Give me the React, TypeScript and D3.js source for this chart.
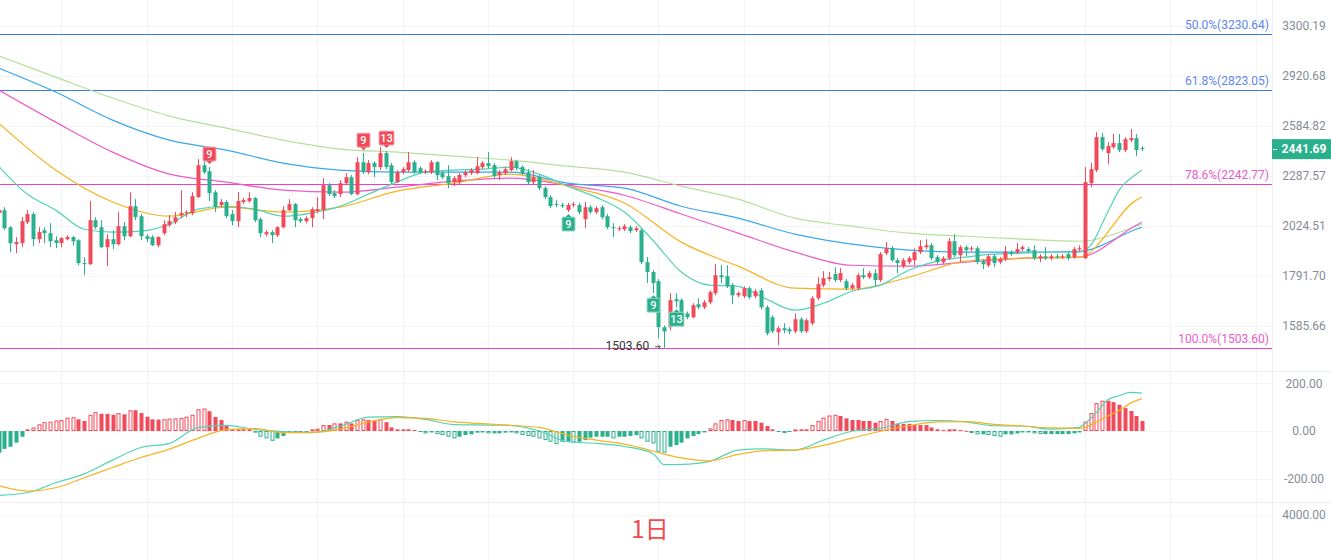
import * as d3 from "d3";

// daily candles (Chinese colours: red = up, green = down)
const opens = [
  2089, 2104, 2018, 1936, 1941, 2043, 2084, 1960, 2003, 1989, 1955, 1941, 1960, 1970, 1955, 1849, 1844, 2053, 2018, 1922,
  1960, 1936, 2023, 1974, 2124, 2073, 1974, 1970, 1931, 1989, 2028, 2043, 2078, 2089, 2089, 2172, 2348, 2314, 2198, 2130,
  2146, 2084, 2048, 2146, 2151, 2167, 2058, 1984, 1994, 1979, 2018, 2104, 2135, 2058, 2048, 2063, 2099, 2104, 2236, 2193,
  2188, 2247, 2280, 2188, 2365, 2308, 2360, 2337, 2418, 2348, 2253, 2308, 2320, 2365, 2331, 2308, 2308, 2365, 2303, 2286,
  2253, 2253, 2292, 2303, 2303, 2337, 2360, 2348, 2292, 2303, 2320, 2371, 2337, 2308, 2253, 2280, 2220, 2172, 2135, 2130,
  2104, 2130, 2130, 2058, 2119, 2094, 2119, 2073, 2018, 2008, 2008, 2018, 2003, 2003, 1853, 1809, 1769, 1581, 1581, 1693,
  1689, 1635, 1620, 1672, 1660, 1680, 1718, 1795, 1791, 1752, 1709, 1705, 1739, 1705, 1730, 1660, 1620, 1562, 1577, 1573,
  1565, 1612, 1565, 1596, 1697, 1752, 1778, 1800, 1774, 1769, 1739, 1739, 1795, 1786, 1804, 1774, 1894, 1917, 1862, 1835,
  1853, 1862, 1899, 1922, 1931, 1876, 1853, 1871, 1950, 1885, 1922, 1913, 1917, 1858, 1839, 1880, 1853, 1867, 1899, 1899,
  1913, 1913, 1908, 1871, 1880, 1871, 1880, 1876, 1890, 1876, 1913, 1871, 2247, 2320, 2514, 2418, 2454, 2478, 2436, 2496,
  2508, 2448,
];
const highs = [
  2119, 2119, 2023, 1970, 2068, 2104, 2094, 2018, 2018, 2038, 1974, 1970, 1979, 1974, 1960, 1876, 2151, 2068, 2053, 1984,
  2003, 2094, 2043, 2198, 2161, 2084, 1984, 1979, 1974, 2053, 2078, 2094, 2209, 2104, 2198, 2383, 2371, 2337, 2209, 2161,
  2156, 2104, 2198, 2167, 2198, 2172, 2068, 2003, 2003, 2023, 2124, 2161, 2141, 2068, 2073, 2119, 2172, 2275, 2247, 2209,
  2264, 2303, 2292, 2395, 2418, 2377, 2371, 2454, 2430, 2360, 2320, 2337, 2424, 2377, 2342, 2325, 2377, 2371, 2314, 2348,
  2286, 2303, 2320, 2331, 2395, 2371, 2424, 2360, 2320, 2337, 2395, 2377, 2348, 2325, 2320, 2292, 2231, 2182, 2156, 2141,
  2141, 2146, 2141, 2146, 2130, 2124, 2130, 2084, 2038, 2023, 2033, 2028, 2023, 2013, 1876, 1817, 1778, 1588, 1718, 1718,
  1697, 1643, 1676, 1697, 1689, 1730, 1844, 1839, 1839, 1761, 1726, 1747, 1747, 1735, 1739, 1668, 1628, 1585, 1596, 1581,
  1635, 1620, 1616, 1705, 1786, 1813, 1809, 1830, 1826, 1778, 1761, 1804, 1826, 1813, 1822, 1899, 1946, 1927, 1871, 1871,
  1880, 1917, 1955, 1960, 1941, 1885, 1880, 1965, 1984, 1931, 1931, 1927, 1927, 1867, 1890, 1890, 1876, 1927, 1908, 1941,
  1931, 1922, 1931, 1890, 1922, 1890, 1890, 1890, 1899, 1922, 1931, 2337, 2360, 2545, 2539, 2484, 2533, 2533, 2514, 2564,
  2533, 2460,
];
const lows = [
  2073, 2003, 1899, 1894, 1922, 2033, 1927, 1941, 1941, 1922, 1917, 1922, 1955, 1931, 1839, 1795, 1840, 2008, 1917, 1835,
  1913, 1931, 1955, 1970, 2053, 1955, 1946, 1927, 1922, 1979, 2018, 2033, 2063, 2068, 2078, 2167, 2297, 2151, 2094, 2119,
  2063, 2028, 2018, 2135, 2141, 2043, 1970, 1974, 1941, 1970, 2013, 2099, 2018, 2038, 2038, 2018, 2089, 2058, 2177, 2167,
  2172, 2236, 2182, 2182, 2297, 2297, 2280, 2320, 2325, 2242, 2247, 2297, 2308, 2297, 2297, 2297, 2297, 2264, 2269, 2220,
  2231, 2242, 2280, 2292, 2297, 2325, 2331, 2275, 2264, 2292, 2314, 2320, 2292, 2242, 2242, 2209, 2161, 2114, 2119, 2114,
  2094, 2119, 2084, 2013, 2084, 2084, 2058, 2008, 1970, 1999, 1999, 1989, 1994, 1844, 1761, 1718, 1539, 1503.6, 1569, 1660,
  1624, 1612, 1616, 1652, 1652, 1672, 1709, 1761, 1739, 1672, 1701, 1697, 1693, 1697, 1652, 1550, 1558, 1513, 1558, 1554,
  1558, 1558, 1558, 1588, 1689, 1743, 1769, 1765, 1765, 1730, 1730, 1730, 1778, 1778, 1747, 1765, 1885, 1853, 1804, 1826,
  1844, 1839, 1890, 1913, 1862, 1844, 1844, 1862, 1876, 1853, 1880, 1903, 1844, 1822, 1830, 1830, 1844, 1858, 1880, 1890,
  1903, 1894, 1862, 1853, 1862, 1862, 1867, 1867, 1862, 1867, 1903, 1867, 2225, 2308, 2430, 2354, 2442, 2424, 2424, 2484,
  2400, 2430,
];
const closes = [
  2104, 2013, 1941, 1946, 2048, 2084, 1960, 1994, 1989, 1950, 1941, 1965, 1970, 1950, 1849, 1844, 2053, 2018, 1922, 1960,
  1936, 2023, 1974, 2124, 2068, 1974, 1960, 1931, 1970, 2033, 2048, 2068, 2089, 2094, 2177, 2348, 2308, 2193, 2119, 2146,
  2073, 2048, 2151, 2156, 2167, 2053, 1989, 1994, 1979, 2018, 2104, 2135, 2053, 2048, 2063, 2109, 2109, 2236, 2188, 2177,
  2247, 2280, 2188, 2365, 2308, 2360, 2337, 2418, 2337, 2253, 2308, 2325, 2365, 2308, 2308, 2314, 2365, 2292, 2280, 2247,
  2275, 2292, 2308, 2320, 2342, 2360, 2342, 2286, 2308, 2325, 2371, 2331, 2303, 2253, 2280, 2220, 2172, 2124, 2130, 2124,
  2130, 2135, 2094, 2119, 2094, 2114, 2068, 2018, 2013, 2013, 2023, 1999, 2013, 1853, 1809, 1761, 1581, 1565, 1689, 1684,
  1631, 1620, 1668, 1660, 1680, 1722, 1795, 1786, 1747, 1709, 1718, 1739, 1701, 1726, 1660, 1558, 1565, 1577, 1569, 1565,
  1612, 1565, 1608, 1697, 1756, 1782, 1786, 1774, 1804, 1739, 1752, 1795, 1786, 1804, 1774, 1890, 1917, 1862, 1849, 1862,
  1871, 1899, 1927, 1931, 1871, 1853, 1871, 1950, 1885, 1922, 1908, 1917, 1853, 1844, 1880, 1849, 1867, 1903, 1890, 1913,
  1922, 1903, 1871, 1880, 1871, 1880, 1876, 1880, 1871, 1913, 1917, 2253, 2325, 2514, 2442, 2460, 2478, 2436, 2502, 2508,
  2436, 2441.69,
];

// moving averages at these candle indices
const maSlowIdx = [0, 10, 20, 30, 40, 50, 60, 70, 80, 90, 100, 110, 120, 130, 140, 150, 160, 170, 180, 190, 200, 201];
const maLightGreen = [3065, 2911, 2766, 2647, 2570, 2496, 2442, 2424, 2400, 2377, 2342, 2308, 2231, 2161, 2063, 2023, 1989, 1974, 1960, 1950, 2023, 2033];
const maBlue = [2976, 2807, 2621, 2496, 2436, 2360, 2320, 2308, 2308, 2308, 2247, 2220, 2124, 2063, 1984, 1936, 1908, 1899, 1899, 1903, 2008, 2018];
const maPink = [2820, 2608, 2424, 2297, 2253, 2209, 2198, 2225, 2258, 2275, 2236, 2182, 2084, 1989, 1899, 1839, 1835, 1853, 1871, 1876, 2028, 2043];
const maOrange = [2601, 2320, 2146, 2073, 2119, 2094, 2119, 2204, 2247, 2297, 2231, 2141, 1946, 1835, 1739, 1735, 1786, 1858, 1871, 1876, 2156, 2172];
const maFastIdx = [
  0, 5, 10, 15, 20, 25, 30, 35, 40, 45, 50, 55, 60, 65, 70, 75, 80, 85, 90, 95, 100, 105, 110, 115, 120, 125, 130, 135,
  140, 145, 150, 155, 160, 165, 170, 175, 180, 185, 190, 192, 195, 197, 200, 201,
];
const maTeal = [
  2342, 2188, 2104, 2008, 1994, 1999, 2033, 2109, 2124, 2109, 2073, 2089, 2124, 2188, 2253, 2308, 2320, 2325, 2337, 2297,
  2231, 2172, 2094, 1955, 1809, 1752, 1747, 1693, 1648, 1676, 1726, 1752, 1817, 1858, 1876, 1890, 1894, 1899, 1899, 1931,
  2094, 2209, 2297, 2320,
];

// MACD
const macdHist = [
  -91, -75, -66, -49, -24, 7, 15, 28, 37, 39, 44, 46, 56, 58, 49, 42, 68, 79, 72, 72,
  68, 75, 70, 87, 87, 75, 60, 49, 48, 49, 52, 53, 55, 60, 68, 91, 94, 83, 59, 46,
  24, 8, 7, 7, 7, -7, -24, -31, -41, -31, -21, -7, -6, -6, -6, 7, 10, 25, 25, 32,
  32, 39, 32, 46, 49, 46, 44, 51, 37, 15, 7, 7, 7, 4, -3, -10, -6, -13, -17, -24,
  -31, -24, -17, -14, -7, -6, -10, -10, -10, -7, -6, -10, -17, -21, -24, -31, -38, -45, -55, -45,
  -45, -48, -45, -38, -28, -24, -24, -24, -31, -24, -24, -21, -17, -31, -45, -52, -87, -91, -66, -59,
  -49, -31, -21, -13, -6, 11, 32, 46, 49, 46, 42, 46, 42, 42, 35, 21, 7, -3, -4, -4,
  7, 7, 7, 25, 42, 56, 65, 68, 63, 53, 46, 46, 42, 42, 35, 42, 51, 42, 30, 30,
  30, 25, 25, 25, 15, 7, 4, 7, 7, 4, 1, -3, -14, -14, -17, -21, -24, -14, -14, -10,
  -6, -6, -10, -13, -13, -13, -13, -13, -13, -10, -6, 39, 75, 117, 127, 127, 121, 110, 96, 84,
  63, 42,
];
const macdIdx = [
  0, 5, 10, 15, 20, 25, 30, 35, 40, 45, 50, 55, 60, 65, 70, 75, 80, 85, 90, 95, 100, 105, 110, 115, 117, 120, 125, 130,
  135, 140, 145, 150, 155, 160, 165, 170, 175, 180, 185, 190, 191, 193, 195, 197, 199, 201,
];
const difValues = [
  -270, -259, -217, -180, -122, -69, -52, 14, 24, 7, -3, -7, 20, 58, 60, 49, 27, 25, 24, 1, -45, -52, -65, -94, -141, -140,
  -127, -80, -75, -80, -38, -1, 11, 39, 44, 38, 22, 21, 8, 15, 32, 77, 131, 148, 162, 159,
];
const deaValues = [
  -229, -252, -238, -196, -153, -111, -76, -31, 6, 10, -7, -6, 8, 37, 56, 53, 38, 31, 23, 15, -17, -38, -55, -84, -97, -113,
  -125, -98, -82, -80, -60, -30, -1, 22, 38, 39, 28, 21, 13, 11, 15, 37, 63, 86, 117, 136,
];

// axis ticks and annotations
const priceTicks = [3300.19, 2920.68, 2584.82, 2287.57, 2024.51, 1791.7, 1585.66];
const macdTicks = [200, 0, -200];
const volumeTicks = [4000];
const fibRatios = ["50.0%", "61.8%", "78.6%", "100.0%"];
const fibPrices = [3230.64, 2823.05, 2242.77, 1503.6];
const tdIdx = [37, 64, 68, 100, 115, 119];
const tdLabels = ["9", "9", "13", "9", "9", "13"];
const tdAbove = [true, true, true, false, false, false];
const lastPrice = 2441.69;
const lowIdx = 117;
const lowPrice = 1503.6;
const periodLabel = "1日";

const W = 1331;
const H = 560;
const PLOT_R = 1272;
const RED = "#f04b5a";
const GREEN = "#2bb08d";
const FONT = "Roboto, 'Noto Sans', sans-serif";
const fibColors = ["#3d78e6", "#3d78e6", "#ef3fc8", "#ef3fc8"];
const fibText = ["#5f86ec", "#5f86ec", "#e95ccd", "#e95ccd"];

export default function App() {
  const n = opens.length;
  const x = d3.scaleLinear().domain([0, n - 1]).range([-1.2, 1141.9]);
  const y = d3.scaleLog().domain([1585.66, 3300.19]).range([326, 25.7]);
  const ym = d3.scaleLinear().domain([-200, 200]).range([478.7, 383.3]);

  const priceLine = (idx: number[], vals: number[]) =>
    d3
      .line<number>()
      .x((_, k) => x(idx[k]))
      .y((v) => y(v))
      .curve(d3.curveMonotoneX)(vals) ?? "";

  const macdLine = (vals: number[]) =>
    d3
      .line<number>()
      .x((_, k) => x(macdIdx[k]))
      .y((v) => ym(v))
      .curve(d3.curveMonotoneX)(vals) ?? "";

  const gridIdx = d3.range(11, n + 20, 15).filter((i) => x(i) < PLOT_R);
  const xLow = x(lowIdx);
  const yLow = y(lowPrice);

  return (
    <svg
      width={W}
      height={H}
      style={{ position: "absolute", left: 0, top: 0, background: "#fff" }}
      fontFamily={FONT}
    >
      <defs>
        <clipPath id="pricePane">
          <rect x={0} y={0} width={PLOT_R} height={371} />
        </clipPath>
        <clipPath id="macdPane">
          <rect x={0} y={372} width={PLOT_R} height={130} />
        </clipPath>
      </defs>
      <rect width={W} height={H} fill="#fff" />

      {/* grid */}
      {gridIdx.map((i) => (
        <line key={`vg${i}`} x1={Math.round(x(i)) + 0.5} x2={Math.round(x(i)) + 0.5} y1={0} y2={H} stroke="#f3f4f6" />
      ))}
      {priceTicks.map((t) => (
        <line key={`hg${t}`} x1={0} x2={PLOT_R} y1={Math.round(y(t)) + 0.5} y2={Math.round(y(t)) + 0.5} stroke="#f3f4f6" />
      ))}
      {macdTicks.map((t) => (
        <line key={`mg${t}`} x1={0} x2={PLOT_R} y1={Math.round(ym(t)) + 0.5} y2={Math.round(ym(t)) + 0.5} stroke="#f3f4f6" />
      ))}
      <line x1={0} x2={PLOT_R} y1={515.5} y2={515.5} stroke="#f3f4f6" />
      <line x1={0} x2={W} y1={371.5} y2={371.5} stroke="#eceef1" />
      <line x1={0} x2={W} y1={502.5} y2={502.5} stroke="#eceef1" />
      <line x1={PLOT_R + 0.5} x2={PLOT_R + 0.5} y1={0} y2={H} stroke="#eceef1" />

      {/* fibonacci levels */}
      {fibPrices.map((p, k) => (
        <g key={`fib${k}`}>
          <line x1={0} x2={PLOT_R} y1={Math.round(y(p)) + 0.5} y2={Math.round(y(p)) + 0.5} stroke={fibColors[k]} strokeWidth={1} />
          <text x={PLOT_R - 3} y={y(p) - 5} textAnchor="end" fontSize={12} fill={fibText[k]}>
            {`${fibRatios[k]}(${p.toFixed(2)})`}
          </text>
        </g>
      ))}

      <g clipPath="url(#pricePane)">
        {/* moving averages */}
        <path d={priceLine(maSlowIdx, maLightGreen)} fill="none" stroke="#b5e09c" strokeWidth={1.2} />
        <path d={priceLine(maSlowIdx, maBlue)} fill="none" stroke="#3aa8ec" strokeWidth={1.2} />
        <path d={priceLine(maSlowIdx, maPink)} fill="none" stroke="#ee5cc9" strokeWidth={1.2} />
        <path d={priceLine(maSlowIdx, maOrange)} fill="none" stroke="#f6b321" strokeWidth={1.2} />
        <path d={priceLine(maFastIdx, maTeal)} fill="none" stroke="#55d3b6" strokeWidth={1.2} />

        {/* candles */}
        {opens.map((o, i) => {
          const c = closes[i];
          const col = c >= o ? RED : GREEN;
          const cx = Math.round(x(i));
          const top = y(Math.max(o, c));
          const bot = y(Math.min(o, c));
          return (
            <g key={`c${i}`}>
              <line x1={cx + 0.5} x2={cx + 0.5} y1={y(highs[i])} y2={y(lows[i])} stroke={col} strokeWidth={1} />
              <rect x={cx - 1.5} y={top} width={4} height={Math.max(1, bot - top)} fill={col} />
            </g>
          );
        })}

        {/* TD sequential markers */}
        {tdIdx.map((i, k) => {
          const cx = Math.round(x(i)) + 0.5;
          const w = tdLabels[k].length > 1 ? 15 : 13;
          const h = 14;
          const fill = tdAbove[k] ? RED : GREEN;
          const stroke = tdAbove[k] ? "#f7aab3" : "#a3dcc9";
          if (tdAbove[k]) {
            const b = y(highs[i]) - 6;
            return (
              <g key={`td${k}`}>
                <rect x={cx - w / 2} y={b - h} width={w} height={h} fill={fill} stroke={stroke} strokeWidth={1} rx={1} />
                <path d={`M${cx - 3},${b} L${cx + 3},${b} L${cx},${b + 3} Z`} fill={fill} />
                <text x={cx} y={b - h / 2} dy="0.36em" textAnchor="middle" fontSize={11} fontWeight={500} fill="#fff">
                  {tdLabels[k]}
                </text>
              </g>
            );
          }
          const t = y(lows[i]) + 5;
          return (
            <g key={`td${k}`}>
              <rect x={cx - w / 2} y={t} width={w} height={h} fill={fill} stroke={stroke} strokeWidth={1} rx={1} />
              <path d={`M${cx - 3},${t} L${cx + 3},${t} L${cx},${t - 3} Z`} fill={fill} />
              <text x={cx} y={t + h / 2} dy="0.36em" textAnchor="middle" fontSize={11} fontWeight={500} fill="#fff">
                {tdLabels[k]}
              </text>
            </g>
          );
        })}

        {/* lowest price note */}
        <text x={xLow - 15} y={yLow - 1.5} dy="0.35em" textAnchor="end" fontSize={12} fill="#333">
          {lowPrice.toFixed(2)}
        </text>
        <path
          d={`M${xLow - 9},${yLow - 1} H${xLow - 4} M${xLow - 6},${yLow - 3} L${xLow - 4},${yLow - 1} L${xLow - 6},${yLow + 1}`}
          fill="none"
          stroke="#555"
          strokeWidth={1}
        />
      </g>

      {/* MACD pane */}
      <g clipPath="url(#macdPane)">
        {macdHist.map((v, i) => {
          const prev = i > 0 ? Math.abs(macdHist[i - 1]) : Infinity;
          const hollow = Math.abs(v) > prev;
          const col = v >= 0 ? RED : GREEN;
          const cx = Math.round(x(i));
          const top = ym(Math.max(v, 0));
          const bot = ym(Math.min(v, 0));
          const hgt = Math.max(1, bot - top);
          return hollow ? (
            <rect key={`h${i}`} x={cx - 1} y={top + 0.5} width={3} height={Math.max(1, hgt - 1)} fill="#fff" stroke={col} strokeWidth={1} />
          ) : (
            <rect key={`h${i}`} x={cx - 1.5} y={top} width={4} height={hgt} fill={col} />
          );
        })}
        <path d={macdLine(difValues)} fill="none" stroke="#55d3b6" strokeWidth={1.2} />
        <path d={macdLine(deaValues)} fill="none" stroke="#f6b321" strokeWidth={1.2} />
      </g>

      {/* right axis */}
      <g fontSize={12} fill="#868c96" textAnchor="middle">
        {priceTicks.map((t) => (
          <text key={`pt${t}`} x={1304} y={y(t)} dy="0.35em">
            {t.toFixed(2)}
          </text>
        ))}
        {macdTicks.map((t) => (
          <text key={`mt${t}`} x={1304} y={ym(t)} dy="0.35em">
            {t.toFixed(2)}
          </text>
        ))}
        {volumeTicks.map((t) => (
          <text key={`vt${t}`} x={1304} y={514.5} dy="0.35em">
            {t.toFixed(2)}
          </text>
        ))}
      </g>

      {/* last price tag */}
      <rect x={PLOT_R} y={y(lastPrice) - 10} width={W - PLOT_R} height={20} fill={GREEN} />
      <line x1={PLOT_R + 1} x2={PLOT_R + 5} y1={Math.round(y(lastPrice)) + 0.5} y2={Math.round(y(lastPrice)) + 0.5} stroke="#fff" />
      <text x={1304} y={y(lastPrice)} dy="0.35em" textAnchor="middle" fontSize={12} fontWeight={700} fill="#fff">
        {lastPrice.toFixed(2)}
      </text>

      <text x={650} y={538} textAnchor="middle" fontSize={24} fill="#f24b4b" fontFamily="'Noto Sans CJK SC', sans-serif">
        {periodLabel}
      </text>
    </svg>
  );
}
